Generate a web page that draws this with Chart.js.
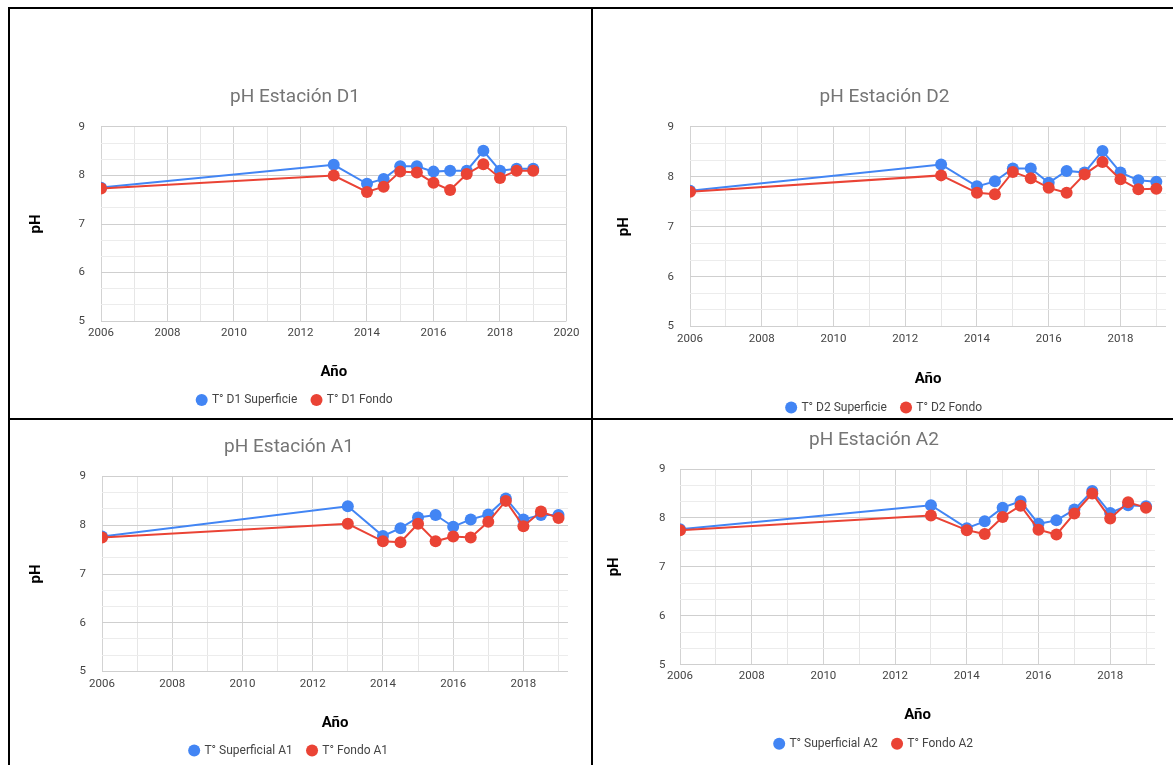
<!DOCTYPE html>
<html lang="es">
<head>
<meta charset="UTF-8">
<title>pH Estaciones</title>
<script src="https://cdn.jsdelivr.net/npm/chart.js"></script>
<style>
  body { margin: 0; background: #fff; width: 1173px; height: 765px; position: relative; overflow: hidden; }
  canvas { position: absolute; }
  .line { position: absolute; background: #000; z-index: 5; }
</style>
</head>
<body>
<canvas id="chartD1" width="580" height="425" style="left:5px;top:9px"></canvas>
<canvas id="chartD2" width="570" height="425" style="left:603px;top:9px"></canvas>
<canvas id="chartA1" width="572" height="360" style="left:10px;top:420px"></canvas>
<canvas id="chartA2" width="576" height="360" style="left:593px;top:420px"></canvas>

<div class="line" style="left:8px;top:7px;width:1165px;height:2px"></div>
<div class="line" style="left:8px;top:7px;width:2px;height:758px"></div>
<div class="line" style="left:591px;top:7px;width:2px;height:758px"></div>
<div class="line" style="left:8px;top:418px;width:1165px;height:2px"></div>

<script>
// sampling dates (years)
const years = [2006, 2013, 2014, 2014.5, 2015, 2015.5, 2016, 2016.5, 2017, 2017.5, 2018, 2018.5, 2019];

// pH values
const d1Superficie = [7.75, 8.22, 7.83, 7.93, 8.19, 8.19, 8.08, 8.10, 8.10, 8.51, 8.10, 8.14, 8.14];
const d1Fondo      = [7.73, 8.00, 7.66, 7.77, 8.08, 8.06, 7.85, 7.70, 8.03, 8.23, 7.95, 8.10, 8.10];
const d2Superficie = [7.72, 8.25, 7.81, 7.91, 8.17, 8.17, 7.88, 8.12, 8.09, 8.52, 8.09, 7.93, 7.90];
const d2Fondo      = [7.70, 8.03, 7.68, 7.65, 8.10, 7.97, 7.78, 7.68, 8.05, 8.30, 7.95, 7.75, 7.76];
const a1Superficie = [7.77, 8.39, 7.78, 7.94, 8.16, 8.21, 7.97, 8.12, 8.22, 8.55, 8.12, 8.21, 8.21];
const a1Fondo      = [7.75, 8.03, 7.67, 7.65, 8.03, 7.67, 7.77, 7.75, 8.07, 8.50, 7.98, 8.28, 8.15];
const a2Superficie = [7.77, 8.26, 7.79, 7.93, 8.21, 8.34, 7.88, 7.95, 8.17, 8.55, 8.10, 8.26, 8.24];
const a2Fondo      = [7.75, 8.05, 7.75, 7.67, 8.02, 8.25, 7.76, 7.66, 8.09, 8.50, 7.99, 8.32, 8.21];

// tick labels
const xTickLabels = ['2006', '2008', '2010', '2012', '2014', '2016', '2018', '2020'];
const yTickLabels = ['5', '6', '7', '8', '9'];

const BLUE = '#4285F4';
const RED = '#EA4335';
const FONT = 'Roboto';

// gridlines every year on x, every third of a unit on y
function xGrid(max) {
    const out = [];
    for (let v = 2006; v <= max + 1e-9; v++) out.push({ value: v });
    return out;
}
function yGrid() {
    const out = [];
    for (let v = 5; v < 9; v++) {
        out.push({ value: v }, { value: v + 1 / 3 }, { value: v + 2 / 3 });
    }
    out.push({ value: 9 });
    return out;
}
const isInt = v => Math.abs(v - Math.round(v)) < 1e-6;

function buildChart(id, title, names, sup, fondo, xMax, box) {
    const ctx = document.getElementById(id).getContext('2d');
    return new Chart(ctx, {
        type: 'line',
        data: {
            datasets: [
                {
                    label: names[0],
                    data: years.map((x, i) => ({ x: x, y: sup[i] })),
                    borderColor: BLUE, backgroundColor: BLUE,
                    order: 1
                },
                {
                    label: names[1],
                    data: years.map((x, i) => ({ x: x, y: fondo[i] })),
                    borderColor: RED, backgroundColor: RED,
                    order: 0
                }
            ]
        },
        options: {
            responsive: false,
            animation: false,
            elements: {
                line: { borderWidth: 2, tension: 0 },
                point: { radius: 6, hoverRadius: 6, borderWidth: 0, pointStyle: 'circle' }
            },
            layout: { padding: { left: 0, top: 0, right: box.padRight, bottom: box.padBottom } },
            scales: {
                x: {
                    type: 'linear',
                    min: 2006,
                    max: xMax,
                    afterBuildTicks: s => { s.ticks = xGrid(xMax); },
                    afterFit: s => { s.height = box.xH; },
                    border: { display: false },
                    grid: {
                        drawTicks: false,
                        color: c => (c.tick && (c.tick.value - 2006) % 2 === 0) ? '#d3d3d3' : '#e6e6e6'
                    },
                    ticks: {
                        autoSkip: false, maxRotation: 0, padding: box.xTickPad,
                        color: '#444', font: { family: FONT, size: 11.5 },
                        callback: v => xTickLabels.includes(String(v)) ? String(v) : ''
                    },
                    title: {
                        display: true, text: 'Año', color: '#000',
                        font: { family: FONT, size: 15, weight: 'bold' },
                        padding: { top: 0, bottom: box.anoPad }
                    }
                },
                y: {
                    min: 5,
                    max: 9,
                    afterBuildTicks: s => { s.ticks = yGrid(); },
                    afterFit: s => { s.width = box.yW; },
                    border: { display: false },
                    grid: {
                        drawTicks: false,
                        color: c => (c.tick && isInt(c.tick.value)) ? '#cfcfcf' : '#ececec'
                    },
                    ticks: {
                        autoSkip: false, padding: box.yTickPad,
                        color: '#444', font: { family: FONT, size: 11.5 },
                        callback: v => {
                            const t = String(Math.round(v));
                            return isInt(v) && yTickLabels.includes(t) ? t : '';
                        }
                    },
                    title: {
                        display: true, text: 'pH', color: '#000',
                        font: { family: FONT, size: 15, weight: 'bold' },
                        padding: { top: box.pHPad, bottom: 0 }
                    }
                }
            },
            plugins: {
                title: {
                    display: true, text: title, color: '#757575',
                    font: { family: FONT, size: 19, weight: 'normal' },
                    padding: { top: box.titleTop, bottom: box.titleBottom }
                },
                legend: {
                    position: 'bottom',
                    labels: {
                        usePointStyle: true, pointStyle: 'circle',
                        boxWidth: 8.5, boxHeight: 8.5, padding: 15,
                        color: '#444', font: { family: FONT, size: 12 },
                        sort: (a, b) => a.datasetIndex - b.datasetIndex
                    }
                },
                tooltip: { enabled: false }
            }
        }
    });
}

buildChart('chartD1', 'pH Estación D1', ['T° D1 Superficie', 'T° D1 Fondo'], d1Superficie, d1Fondo, 2020,
    { titleTop: 76.6, titleBottom: 18.6, padBottom: 18, padRight: 0, xH: 58, xTickPad: 5.6, anoPad: -2.5, yW: 96, yTickPad: 16, pHPad: 22.5 });

buildChart('chartD2', 'pH Estación D2', ['T° D2 Superficie', 'T° D2 Fondo'], d2Superficie, d2Fondo, 2019.27,
    { titleTop: 76.6, titleBottom: 18.6, padBottom: 10.5, padRight: 7, xH: 60, xTickPad: 6.1, anoPad: -2, yW: 87, yTickPad: 16, pHPad: 12.5 });

buildChart('chartA1', 'pH Estación A1', ['T° Superficial A1', 'T° Fondo A1'], a1Superficie, a1Fondo, 2019.27,
    { titleTop: 16.1, titleBottom: 17.6, padBottom: 13.5, padRight: 14, xH: 58, xTickPad: 6.1, anoPad: -2.5, yW: 92, yTickPad: 16, pHPad: 17.5 });

buildChart('chartA2', 'pH Estación A2', ['T° Superficial A2', 'T° Fondo A2'], a2Superficie, a2Fondo, 2019.25,
    { titleTop: 9.1, titleBottom: 17.1, padBottom: 20.3, padRight: 14, xH: 58, xTickPad: 4.9, anoPad: -1.8, yW: 87, yTickPad: 14.5, pHPad: 12.4 });
</script>
</body>
</html>
